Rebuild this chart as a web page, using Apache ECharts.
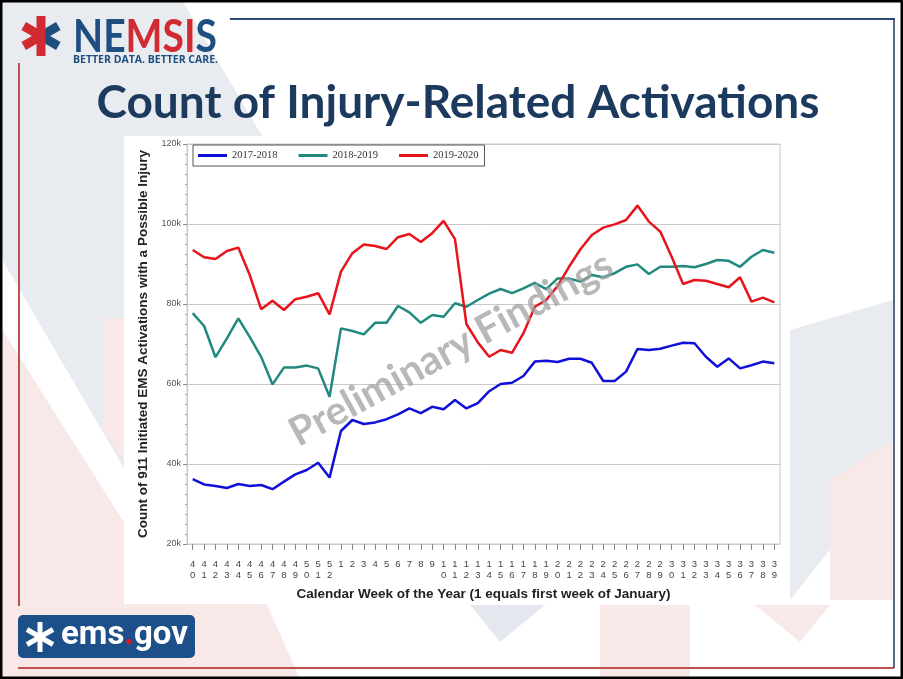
<!DOCTYPE html>
<html>
<head>
<meta charset="utf-8">
<script src="https://cdn.jsdelivr.net/npm/echarts@6/dist/echarts.min.js"></script>
<style>
  html, body { margin: 0; padding: 0; background: #fff; }
  #chart { width: 903px; height: 679px; }
</style>
</head>
<body>
<div id="chart"></div>
<script>
// calendar weeks: week 40 of the first year through week 39 of the next
const weeks = [40, 41, 42, 43, 44, 45, 46, 47, 48, 49, 50, 51, 52,
  1, 2, 3, 4, 5, 6, 7, 8, 9, 10, 11, 12, 13, 14, 15, 16, 17, 18, 19, 20,
  21, 22, 23, 24, 25, 26, 27, 28, 29, 30, 31, 32, 33, 34, 35, 36, 37, 38, 39]

const seasonNames = ['2017-2018', '2018-2019', '2019-2020']
const seasonColors = ['#1010d8', '#21897d', '#e8141c']

// weekly counts (thousands)
const season1718 = [36.2, 34.9, 34.5, 34.0, 35.0, 34.5, 34.75, 33.7, 35.6, 37.4, 38.5, 40.3, 36.6,
  48.25, 51.0, 50.0, 50.4, 51.2, 52.4, 53.9, 52.7, 54.3, 53.7, 56.0, 53.9, 55.2,
  58.2, 60.0, 60.3, 62.0, 65.6, 65.8, 65.5, 66.3, 66.3, 65.3, 60.75, 60.75, 63.1,
  68.75, 68.5, 68.8, 69.6, 70.3, 70.2, 66.8, 64.3, 66.4, 63.9, 64.7, 65.6, 65.2]
const season1819 = [77.7, 74.5, 66.7, 71.4, 76.4, 71.8, 66.8, 59.9, 64.1, 64.1, 64.6, 63.9, 56.8,
  73.9, 73.25, 72.4, 75.3, 75.3, 79.5, 77.9, 75.3, 77.25, 76.8, 80.2, 79.3, 81.0,
  82.6, 83.75, 82.7, 83.9, 85.3, 83.7, 86.4, 86.4, 85.6, 87.25, 86.7, 87.7, 89.3,
  89.9, 87.5, 89.3, 89.3, 89.5, 89.2, 90.0, 91.0, 90.8, 89.3, 91.8, 93.5, 92.8]
const season1920 = [93.5, 91.7, 91.25, 93.25, 94.1, 87.25, 78.7, 80.8, 78.5, 81.2, 81.8, 82.7, 77.4,
  88.1, 92.7, 94.9, 94.5, 93.75, 96.7, 97.5, 95.5, 97.7, 100.8, 96.2, 75.0, 70.4,
  66.8, 68.5, 67.8, 72.7, 79.3, 81.0, 84.5, 89.3, 93.7, 97.25, 99.1, 99.9, 101.0,
  104.6, 100.6, 98.1, 91.8, 85.0, 86.0, 85.8, 85.0, 84.2, 86.7, 80.6, 81.6, 80.4]

const yTicks = [20, 40, 60, 80, 100, 120]

const chart = echarts.init(document.getElementById('chart'), null, { renderer: 'canvas' })

// week numbers are printed one digit per line
const weekLabels = weeks.map(w => String(w).split('').join('\n'))

// star of life: six arms, two colours left/right
function starArms (cx, cy, len, w, left, right) {
  const arms = []
  const addArm = (deg, color) => arms.push({
    type: 'rect', position: [cx, cy], rotation: deg * Math.PI / 180,
    shape: { x: 0, y: -w / 2, width: len, height: w }, style: { fill: color }, z: 5
  })
  addArm(30, right); addArm(-30, right)
  addArm(150, left); addArm(210, left)
  arms.push({ type: 'rect', shape: { x: cx - w / 2, y: cy - len, width: w, height: len * 2 }, style: { fill: left }, z: 5 })
  return arms
}

const graphics = [
  // slide background decoration
  { type: 'polygon', z: -20, shape: { points: [[0, 0], [182, 0], [262, 136], [125, 136], [125, 470], [0, 256]] }, style: { fill: '#e8ebef' } },
  { type: 'polygon', z: -20, shape: { points: [[0, 326], [125, 524], [125, 679], [0, 679]] }, style: { fill: '#f8e8e8' } },
  { type: 'polygon', z: -20, shape: { points: [[103, 318], [125, 318], [125, 462], [103, 430]] }, style: { fill: '#f8e8e8' } },
  { type: 'polygon', z: -20, shape: { points: [[125, 600], [265, 600], [300, 679], [125, 679]] }, style: { fill: '#f8e8e8' } },
  { type: 'polygon', z: -20, shape: { points: [[470, 605], [545, 605], [500, 642]] }, style: { fill: '#e4e8ee' } },
  { type: 'rect', z: -20, shape: { x: 600, y: 605, width: 90, height: 74 }, style: { fill: '#f8e8e8' } },
  { type: 'polygon', z: -20, shape: { points: [[755, 605], [830, 605], [800, 642]] }, style: { fill: '#f8e8e8' } },
  { type: 'polygon', z: -20, shape: { points: [[790, 330], [893, 300], [893, 470], [790, 600]] }, style: { fill: '#e8ebef' } },
  { type: 'polygon', z: -20, shape: { points: [[830, 480], [893, 440], [893, 600], [830, 600]] }, style: { fill: '#f8e8e8' } },
  // white chart panel
  { type: 'rect', z: -10, shape: { x: 124, y: 136, width: 664, height: 468 }, style: { fill: '#ffffff' } },
  // frame lines
  { type: 'line', z: 1, shape: { x1: 230, y1: 19, x2: 895, y2: 19 }, style: { stroke: '#2a4a72', lineWidth: 2 } },
  { type: 'line', z: 1, shape: { x1: 19, y1: 63, x2: 19, y2: 606 }, style: { stroke: '#c0504d', lineWidth: 2 } },
  { type: 'line', z: 1, shape: { x1: 18, y1: 668, x2: 894, y2: 668 }, style: { stroke: '#c0504d', lineWidth: 2 } },
  { type: 'line', z: 1, shape: { x1: 894, y1: 19, x2: 894, y2: 668 }, style: { stroke: '#1f3a5c', lineWidth: 1.5 } },
  { type: 'rect', z: 50, shape: { x: 1, y: 1, width: 901, height: 677 }, style: { fill: 'none', stroke: '#000', lineWidth: 3 } },
  // NEMSIS logo
  ...starArms(41, 36, 20, 9, '#d12a33', '#1f4f80'),
  {
    type: 'text', z: 5, x: 73, y: 14, scaleX: 0.85,
    style: {
      text: '{b|NE}{r|MSI}{b|S}', verticalAlign: 'top',
      rich: {
        b: { fill: '#1f4f80', font: 'bold 46px Lato' },
        r: { fill: '#d12a33', font: 'bold 46px Lato' }
      }
    }
  },
  { type: 'text', z: 5, x: 73, y: 55, style: { text: 'BETTER DATA. BETTER CARE.', fill: '#1f4f80', font: 'bold 10.5px "Open Sans"', verticalAlign: 'top' } },
  // title
  {
    type: 'text', z: 5, x: 458, y: 103,
    style: { text: 'Count of Injury-Related Activations', fill: '#1c3a5e', font: 'bold 46px Lato', align: 'center', verticalAlign: 'middle' }
  },
  // ems.gov badge
  { type: 'rect', z: 5, shape: { x: 18, y: 615, width: 177, height: 43, r: 5 }, style: { fill: '#1d5089' } },
  ...starArms(40, 637, 15, 5, '#ffffff', '#ffffff'),
  {
    type: 'text', z: 6, x: 61, y: 636,
    style: {
      text: '{w|ems}{d|.}{w|gov}', verticalAlign: 'middle',
      rich: {
        w: { fill: '#ffffff', font: 'bold 33px Roboto' },
        d: { fill: '#e8141c', font: 'bold 33px Roboto' }
      }
    }
  },
  // watermark
  {
    type: 'text', z: 100, x: 451, y: 349, rotation: 28.7 * Math.PI / 180,
    style: { text: 'Preliminary Findings', fill: 'rgba(160,160,160,0.75)', font: 'bold 40px Lato', align: 'center', verticalAlign: 'middle' }
  }
]

const option = {
  animation: false,
  backgroundColor: '#ffffff',
  grid: {
    left: 187, top: 144, right: 123, bottom: 135,
    show: true, borderColor: '#c8c8c8', borderWidth: 1, backgroundColor: 'transparent'
  },
  legend: {
    left: 193, top: 145,
    orient: 'horizontal',
    data: seasonNames,
    icon: 'rect', itemWidth: 29, itemHeight: 3, itemGap: 21,
    padding: [5, 6, 5, 5],
    borderColor: '#555', borderWidth: 1, backgroundColor: '#fff',
    textStyle: { fontFamily: 'Liberation Serif', fontSize: 10.5, color: '#333' }
  },
  xAxis: {
    type: 'category',
    data: weekLabels,
    boundaryGap: true,
    name: 'Calendar Week of the Year (1 equals first week of January)',
    nameLocation: 'middle', nameGap: 43,
    nameTextStyle: { fontFamily: 'Liberation Sans', fontWeight: 'bold', fontSize: 13.5, color: '#222' },
    axisLine: { show: true, lineStyle: { color: '#c8c8c8' } },
    axisTick: { show: true, alignWithLabel: true, interval: 0, length: 6, lineStyle: { color: '#888' } },
    axisLabel: { interval: 0, fontFamily: 'Liberation Sans', fontSize: 9.5, lineHeight: 11, color: '#444', margin: 15 },
    splitLine: { show: false }
  },
  yAxis: {
    type: 'value',
    min: 20, max: 120, interval: 20,
    name: 'Count of 911 Initiated EMS Activations with a Possible Injury',
    nameLocation: 'middle', nameGap: 37, nameRotate: 90,
    nameTextStyle: { fontFamily: 'Liberation Sans', fontWeight: 'bold', fontSize: 13.5, color: '#222' },
    axisLine: { show: true, lineStyle: { color: '#c8c8c8' } },
    axisTick: { show: true, length: 4, lineStyle: { color: '#888' } },
    minorTick: { show: true, splitNumber: 8, length: 2, lineStyle: { color: '#aaa' } },
    axisLabel: {
      fontFamily: 'Liberation Sans', fontSize: 9, color: '#555', margin: 6,
      formatter: v => yTicks.includes(v) ? v + 'k' : ''
    },
    splitLine: { show: true, lineStyle: { color: '#c8c8c8', width: 1 } }
  },
  series: [
    { name: seasonNames[0], type: 'line', data: season1718, color: seasonColors[0], showSymbol: false, lineStyle: { width: 2.5 } },
    { name: seasonNames[1], type: 'line', data: season1819, color: seasonColors[1], showSymbol: false, lineStyle: { width: 2.5 } },
    { name: seasonNames[2], type: 'line', data: season1920, color: seasonColors[2], showSymbol: false, lineStyle: { width: 2.5 } }
  ],
  graphic: graphics
}

chart.setOption(option)
</script>
</body>
</html>
